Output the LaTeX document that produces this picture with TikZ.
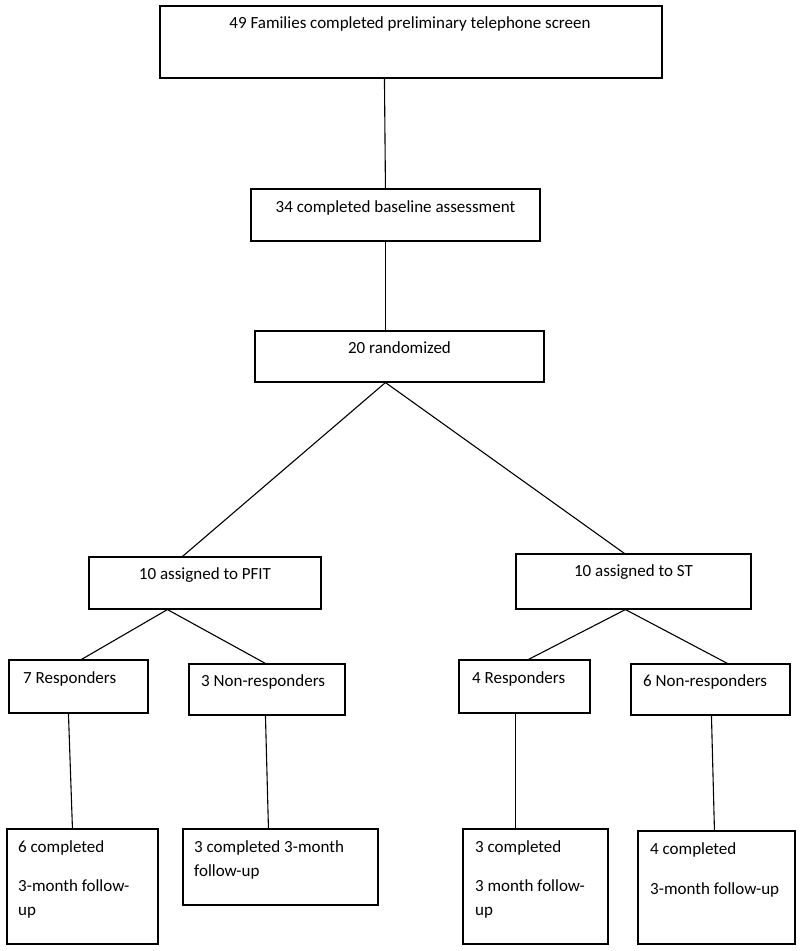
\documentclass[tikz,border=0pt]{standalone}
\usepackage{fontspec}
\setmainfont{Carlito}
\usetikzlibrary{calc}
\tikzset{
  box/.style={draw=black, line width=1.1pt, rectangle, inner sep=0pt, fill=none},
  txt/.style={inner sep=0pt, font=\fontsize{17}{24}\selectfont, text=black},
  conn/.style={draw=black, line width=1.1pt},
}
\begin{document}
\begin{tikzpicture}[x=1pt,y=-1pt]
\useasboundingbox[fill=white] (0,0) rectangle (800,951);
% boxes
\node[box, minimum width=502, minimum height=72] (top) at (411,42) {};
\node[box, minimum width=289, minimum height=52] (b34) at (395.5,215) {};
\node[box, minimum width=289, minimum height=51] (b20) at (399.5,356.5) {};
\node[box, minimum width=232, minimum height=52] (pfit) at (205,583) {};
\node[box, minimum width=235, minimum height=55] (st) at (633.5,581.5) {};
\node[box, minimum width=139, minimum height=53] (r7) at (78.5,686.5) {};
\node[box, minimum width=156, minimum height=51] (n3) at (267,689.5) {};
\node[box, minimum width=131, minimum height=53] (r4) at (524.5,686.5) {};
\node[box, minimum width=159, minimum height=51] (n6) at (710.5,689.5) {};
\node[box, minimum width=151, minimum height=115] (c6) at (82.5,886.5) {};
\node[box, minimum width=195, minimum height=76] (c3a) at (280.5,867) {};
\node[box, minimum width=145, minimum height=115] (c3b) at (535.5,886.5) {};
\node[box, minimum width=157, minimum height=113] (c4) at (716.5,887.5) {};
% texts
\node[txt, anchor=base] (ttop) at (410,28) {49 Families completed preliminary telephone screen};
\node[txt, anchor=base] (t34) at (395.5,212) {34 completed baseline assessment};
\node[txt, anchor=base] (t20) at (399.5,353) {20 randomized};
\node[txt, anchor=base] (tpfit) at (205,579) {10 assigned to PFIT};
\node[txt, anchor=base] (tst) at (633.5,576) {10 assigned to ST};
\node[txt, anchor=base west] (tr7) at (23,683) {7 Responders};
\node[txt, anchor=base west] (tn3) at (201,686) {3 Non-responders};
\node[txt, anchor=base west] (tr4) at (472,683) {4 Responders};
\node[txt, anchor=base west] (tn6) at (643,686) {6 Non-responders};
\node[txt, anchor=base west] (tc6a) at (18,852) {6 completed};
\node[txt, anchor=base west] (tc6b) at (18,891) {3-month follow-};
\node[txt, anchor=base west] (tc6c) at (18,915) {up};
\node[txt, anchor=base west] (tc3aa) at (194,852) {3 completed 3-month};
\node[txt, anchor=base west] (tc3ab) at (194,876) {follow-up};
\node[txt, anchor=base west] (tc3ba) at (475,852) {3 completed};
\node[txt, anchor=base west] (tc3bb) at (475,891) {3 month follow-};
\node[txt, anchor=base west] (tc3bc) at (475,915) {up};
\node[txt, anchor=base west] (tc4a) at (650,854) {4 completed};
\node[txt, anchor=base west] (tc4b) at (650,894) {3-month follow-up};
% connectors
\draw[conn] ($(top.south west)+(225,0)$) -- ($(b34.north west)+(135,0)$);
\draw[conn] ($(b34.south west)+(135,0)$) -- ($(b20.north west)+(131,0)$);
\draw[conn] ($(b20.south west)+(131,0)$) -- ($(pfit.north west)+(94,0)$);
\draw[conn] ($(b20.south west)+(131,0)$) -- ($(st.north west)+(109,0)$);
\draw[conn] ($(pfit.south west)+(79,0)$) -- ($(r7.north west)+(73,0)$);
\draw[conn] ($(pfit.south west)+(79,0)$) -- ($(n3.north west)+(77,0)$);
\draw[conn] ($(st.south west)+(110,0)$) -- ($(r4.north west)+(70,0)$);
\draw[conn] ($(st.south west)+(110,0)$) -- ($(n6.north west)+(97,0)$);
\draw[conn] ($(r7.south west)+(60,0)$) -- ($(c6.north west)+(66,0)$);
\draw[conn] ($(n3.south west)+(77,0)$) -- ($(c3a.north west)+(86,0)$);
\draw[conn] ($(r4.south west)+(57,0)$) -- ($(c3b.north west)+(53,0)$);
\draw[conn] ($(n6.south west)+(81,0)$) -- ($(c4.north west)+(77,0)$);
\end{tikzpicture}
\end{document}
